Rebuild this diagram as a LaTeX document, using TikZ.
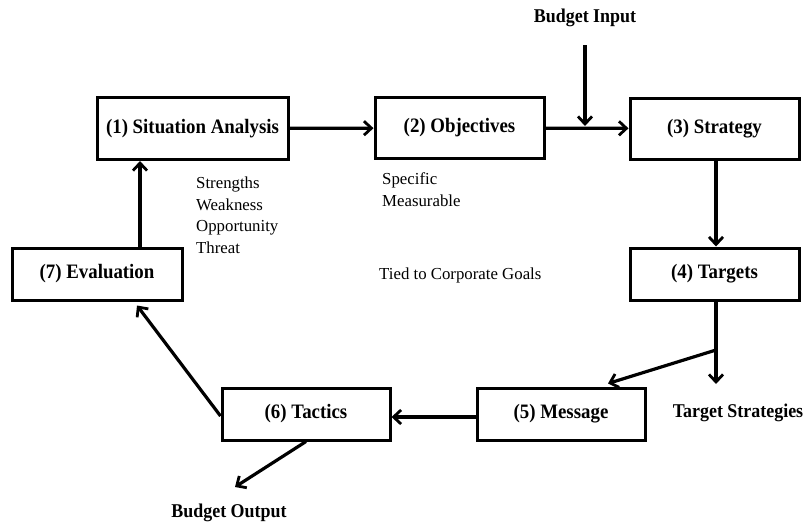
\documentclass[tikz,border=0pt]{standalone}
\usepackage{fontspec}
\setmainfont{Liberation Serif}
\newfontfamily\narrowserif[FakeStretch=0.92]{Liberation Serif}
\usetikzlibrary{arrows.meta}

\begin{document}
\begin{tikzpicture}[x=1pt,y=-1pt,
  stagebox/.style={draw, line width=3pt, inner sep=0pt,
    font=\narrowserif\fontsize{20.5}{24}\selectfont\bfseries},
  flow/.style={line width=3.2pt,
    -{Straight Barb[length=7.5pt,width=14pt,line width=2.8pt]}},
  plain/.style={line width=3.2pt},
  note/.style={font=\fontsize{16.8}{21.5}\selectfont, align=left,
    anchor=north west, inner sep=0pt},
  tag/.style={font=\narrowserif\fontsize{19.5}{23}\selectfont\bfseries, inner sep=0pt}]

  \useasboundingbox (0,0) rectangle (809,525);

  % stages of the cycle
  \node[stagebox, minimum width=191pt, minimum height=62pt] (b1) at (192.5,128.5) {(1) Situation Analysis};
  \node[stagebox, minimum width=169pt, minimum height=61pt] (b2) at (459.5,128) {(2) Objectives};
  \node[stagebox, minimum width=169pt, minimum height=61pt] (b3) at (714.5,128.5) {(3) Strategy};
  \node[stagebox, minimum width=169pt, minimum height=52pt] (b4) at (714.5,274) {(4) Targets};
  \node[stagebox, minimum width=168pt, minimum height=52pt] (b5) at (561,414) {(5) Message};
  \node[stagebox, minimum width=168pt, minimum height=52pt] (b6) at (306,414) {(6) Tactics};
  \node[stagebox, minimum width=170pt, minimum height=52pt] (b7) at (97,274) {(7) Evaluation};

  % outside labels
  \node[tag] (bin) at (585,18) {Budget Input};
  \node[tag] (ts) at (738,413) {Target Strategies};
  \node[tag] (bout) at (229,513) {Budget Output};

  % annotations
  \node[note] (swot) at (196,177) {Strengths\\Weakness\\Opportunity\\Threat};
  \node[note] (smart) at (382,172.5) {Specific\\Measurable};
  \node[note, anchor=base west] (goals) at (379,279) {Tied to Corporate Goals};

  % helper points
  \coordinate (binstart) at (585,45);
  \coordinate (binjoin) at (585,126);
  \coordinate (split) at (716,350);
  \coordinate (tsend) at (716,384);
  \coordinate (boutend) at (235,487);

  % connectors
  \draw[flow] (b1) -- (b2);
  \draw[flow] (b2) -- (b3);
  \draw[flow] (binstart) -- (binjoin);
  \draw[flow] ([xshift=1.5pt]b3.south) -- ([xshift=1.5pt]b4.north);
  \draw[plain] ([xshift=1.5pt]b4.south) -- (split);
  \draw[flow] (split) -- (tsend);
  \draw[flow] (split) -- ([xshift=47pt,yshift=3pt]b5.north);
  \draw[flow] ([yshift=-3pt]b5.west) -- ([yshift=-3pt]b6.east);
  \draw[flow] ([yshift=-2pt]b6.west) -- ([xshift=40pt,yshift=-4pt]b7.south);
  \draw[flow] ([xshift=43pt]b7.north) -- ([xshift=43pt]b7.north |- b1.south);
  \draw[flow] (b6.south) -- (boutend);
\end{tikzpicture}
\end{document}
